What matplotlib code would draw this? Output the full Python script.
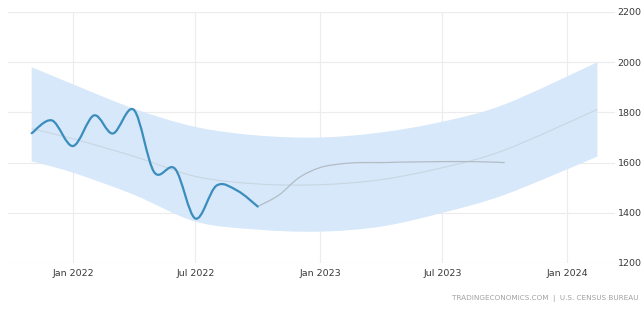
import numpy as np
import pandas as pd
import matplotlib
matplotlib.use('Agg')
import matplotlib.pyplot as plt
import matplotlib.dates as mdates
from matplotlib.path import Path
from matplotlib.patches import PathPatch

# Фактические данные (помесячно)
actual_dates = pd.date_range('2021-11-01', '2022-10-01', freq='MS')
actual_values = [1717, 1768, 1666, 1788, 1716, 1810, 1562, 1575, 1377, 1508, 1488, 1425]

# Прогноз
forecast_dates = pd.date_range('2022-10-01', '2023-10-01', freq='MS')
forecast_values = [1425, 1470, 1540, 1580, 1595, 1600, 1600, 1602, 1603, 1604, 1604, 1603, 1600]

# Коридор и линия тренда
band_dates = pd.to_datetime(['2021-11-01', '2022-01-01', '2022-04-01', '2022-07-01', '2022-10-01',
                             '2023-01-01', '2023-04-01', '2023-07-01', '2023-10-01', '2024-02-15'])
band_upper = [1980, 1912, 1815, 1742, 1708, 1700, 1720, 1763, 1832, 2000]
band_lower = [1605, 1560, 1472, 1365, 1333, 1325, 1345, 1400, 1472, 1624]
trend_values = [1735, 1695, 1625, 1545, 1515, 1512, 1532, 1580, 1650, 1812]

tick_dates = pd.to_datetime(['2022-01-01', '2022-07-01', '2023-01-01', '2023-07-01', '2024-01-01'])
tick_labels = ['Jan 2022', 'Jul 2022', 'Jan 2023', 'Jul 2023', 'Jan 2024']
y_ticks = [1200, 1400, 1600, 1800, 2000, 2200]
source_text = 'TRADINGECONOMICS.COM  |  U.S. CENSUS BUREAU'


def smooth_verts(x, y):
    """Catmull-Rom -> кубические кривые Безье"""
    x = np.asarray(x, dtype=float)
    y = np.asarray(y, dtype=float)
    pts = np.column_stack([x, y])
    n = len(pts)
    verts = [pts[0]]
    codes = [Path.MOVETO]
    for i in range(n - 1):
        p0 = pts[i - 1] if i > 0 else pts[i]
        p1 = pts[i]
        p2 = pts[i + 1]
        p3 = pts[i + 2] if i + 2 < n else pts[i + 1]
        c1 = p1 + (p2 - p0) / 6.0
        c2 = p2 - (p3 - p1) / 6.0
        verts += [c1, c2, p2]
        codes += [Path.CURVE4] * 3
    return verts, codes


def smooth_line(ax, dates, values, **kw):
    verts, codes = smooth_verts(mdates.date2num(dates), values)
    ax.add_patch(PathPatch(Path(verts, codes), fill=False, **kw))


def smooth_band(ax, dates, upper, lower, **kw):
    xn = mdates.date2num(dates)
    v1, c1 = smooth_verts(xn, upper)
    v2, c2 = smooth_verts(xn[::-1], lower[::-1])
    c2[0] = Path.LINETO
    verts = v1 + v2 + [v1[0]]
    codes = c1 + c2 + [Path.CLOSEPOLY]
    ax.add_patch(PathPatch(Path(verts, codes), **kw))


fig = plt.figure(figsize=(6.43, 3.10), dpi=100)
ax = fig.add_axes([8 / 643, 47 / 310, 607 / 643, 251 / 310])

smooth_band(ax, band_dates, band_upper, band_lower, facecolor='#d6e8f9', edgecolor='none', zorder=1)
smooth_line(ax, band_dates, trend_values, edgecolor='#c9d6e2', linewidth=0.8, zorder=2)
smooth_line(ax, forecast_dates, forecast_values, edgecolor='#b3bcc5', linewidth=0.9, zorder=3)
smooth_line(ax, actual_dates, actual_values, edgecolor='#3a8dbd', linewidth=1.6,
            capstyle='round', joinstyle='round', zorder=4)

ax.set_xlim(mdates.date2num(pd.Timestamp('2021-09-27')), mdates.date2num(pd.Timestamp('2024-03-12')))
ax.set_ylim(1200, 2200)

ax.set_xticks(mdates.date2num(tick_dates))
ax.set_xticklabels(tick_labels)
ax.set_yticks(y_ticks)
ax.yaxis.tick_right()

ax.tick_params(axis='both', length=0, labelsize=6.8, colors='#3a3a3a')
ax.tick_params(axis='x', pad=4)
ax.tick_params(axis='y', pad=2)

ax.grid(True, color='#ececec', linewidth=0.8)
ax.set_axisbelow(True)
for s in ax.spines.values():
    s.set_visible(False)

fig.text(638 / 643, 1 - 298 / 310, source_text, ha='right', va='center', fontsize=5.2, color='#a0a0a0')

fig.savefig('out.png', dpi=100)
